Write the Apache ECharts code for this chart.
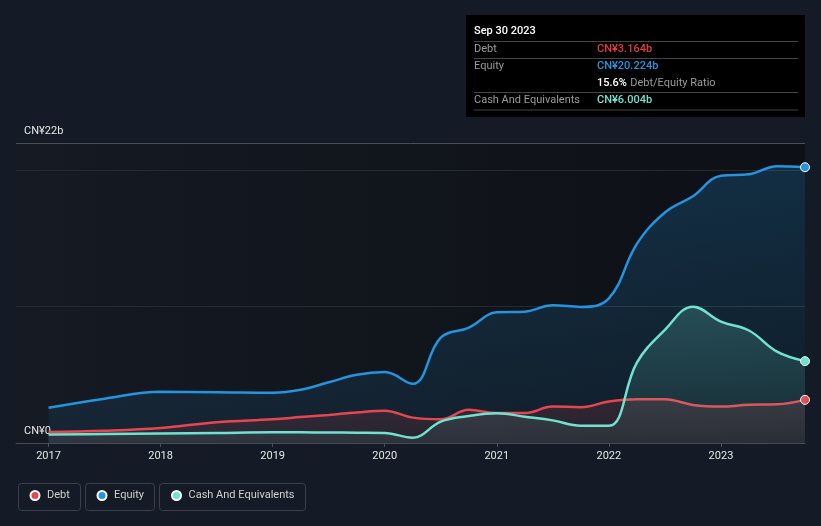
<!DOCTYPE html>
<html>
<head>
<meta charset="utf-8">
<script src="https://cdn.jsdelivr.net/npm/echarts@6/dist/echarts.min.js"></script>
<style>
html,body{margin:0;padding:0;background:#151b26;}
#chart{width:821px;height:526px;}
</style>
</head>
<body>
<div id="chart"></div>
<script>
// Time points (decimal years)
var dates = [2017.0, 2017.5, 2018.0, 2018.5, 2019.0, 2019.25, 2019.5, 2019.75, 2020.0, 2020.25, 2020.5, 2020.75, 2021.0, 2021.25, 2021.5, 2021.75, 2022.0, 2022.25, 2022.5, 2022.75, 2023.0, 2023.25, 2023.5, 2023.75];
// Values in CN¥ billions
var debt   = [0.81, 0.9, 1.1, 1.52, 1.74, 1.9, 2.06, 2.24, 2.37, 1.86, 1.74, 2.43, 2.2, 2.2, 2.67, 2.63, 3.04, 3.21, 3.21, 2.79, 2.67, 2.81, 2.84, 3.164];
var equity = [2.58, 3.25, 3.75, 3.72, 3.68, 3.9, 4.45, 5.0, 5.2, 4.34, 7.72, 8.46, 9.58, 9.63, 10.1, 9.98, 10.6, 14.6, 16.9, 18.1, 19.6, 19.7, 20.3, 20.224];
var cash   = [0.62, 0.66, 0.7, 0.74, 0.78, 0.78, 0.77, 0.76, 0.74, 0.39, 1.57, 1.98, 2.18, 1.93, 1.66, 1.27, 1.27, 5.9, 8.3, 10.0, 8.9, 8.25, 6.7, 6.004];
var yearTicks = [2017, 2018, 2019, 2020, 2021, 2022, 2023];
var seriesNames = ['Debt', 'Equity', 'Cash And Equivalents'];

var COLORS = {debt: '#e5474f', equity: '#2394df', cash: '#6fe3d0'};

function pairs(arr) { return arr.map(function (v, i) { return [dates[i], v]; }); }
function grad(rgb, a0, a1) {
  return new echarts.graphic.LinearGradient(0, 0, 0, 1, [
    {offset: 0, color: 'rgba(' + rgb + ',' + a0 + ')'},
    {offset: 1, color: 'rgba(' + rgb + ',' + a1 + ')'}
  ]);
}
var last = dates.length - 1;
function mkSeries(name, data, color, rgb, a0, a1, z) {
  return {
    name: name, type: 'line', data: pairs(data), z: z,
    smooth: 0.4,
    showSymbol: true, symbol: 'circle',
    symbolSize: function (v, p) { return p.dataIndex === last ? 9 : 0; },
    itemStyle: {color: color, borderColor: '#ffffff', borderWidth: 1},
    lineStyle: {color: color, width: 2.5},
    areaStyle: {color: grad(rgb, a0, a1), origin: 'start'},
    emphasis: {disabled: true},
    silent: true
  };
}

var chart = echarts.init(document.getElementById('chart'), null, {renderer: 'canvas'});
var legendText = {color: '#d0d0d0', fontSize: 11};
var option = {
  backgroundColor: '#151b26',
  animation: false,
  textStyle: {fontFamily: 'Roboto'},
  grid: {
    left: 16, right: 16, top: 143, bottom: 83,
    show: true, borderWidth: 0,
    backgroundColor: new echarts.graphic.LinearGradient(0, 0, 1, 0, [
      {offset: 0, color: '#151a23'}, {offset: 1, color: '#0d1015'}
    ])
  },
  xAxis: {
    type: 'value', min: 2016.71, max: 2023.75,
    axisLine: {show: true, lineStyle: {color: '#454b55', width: 1}},
    axisTick: {show: true, customValues: yearTicks, length: 4, lineStyle: {color: '#4a505a'}},
    axisLabel: {customValues: yearTicks, color: '#e6e6e6', fontSize: 11, margin: 8,
      formatter: function (v) { return String(Math.round(v)); }},
    splitLine: {show: false}
  },
  yAxis: {
    type: 'value', min: 0, max: 22, interval: 10,
    axisLine: {show: false}, axisTick: {show: false},
    axisLabel: {
      inside: true, margin: 8, color: '#e6e6e6', fontSize: 11,
      verticalAlign: 'bottom', lineHeight: 23,
      formatter: function (v) { if (v === 0) return 'CN¥0'; if (v === 22) return 'CN¥22b'; return ''; }
    },
    splitLine: {show: true, lineStyle: {color: ['#454b55', '#252a33', '#252a33', '#4a4f58'], width: 1}}
  },
  legend: [
    {data: ['Debt'], left: 24.5, top: 485, icon: 'circle', itemWidth: 14, itemHeight: 9,
      textStyle: legendText, selectedMode: false},
    {data: ['Equity'], left: 91.5, top: 485, icon: 'circle', itemWidth: 14, itemHeight: 9,
      textStyle: legendText, selectedMode: false},
    {data: ['Cash And Equivalents'], left: 166, top: 485, icon: 'circle', itemWidth: 14, itemHeight: 9,
      textStyle: legendText, selectedMode: false}
  ],
  series: [
    mkSeries(seriesNames[1], equity, COLORS.equity, '35,148,223', 0.32, 0.12, 2),
    mkSeries(seriesNames[0], debt, COLORS.debt, '229,71,79', 0.22, 0.14, 3),
    mkSeries(seriesNames[2], cash, COLORS.cash, '111,227,208', 0.3, 0.1, 4)
  ],
  graphic: [
    // legend boxes
    {type: 'rect', left: 16, top: 481, shape: {width: 62, height: 27, r: 3}, style: {fill: 'none', stroke: '#3b404a', lineWidth: 1}, silent: true},
    {type: 'rect', left: 83, top: 481, shape: {width: 69, height: 27, r: 3}, style: {fill: 'none', stroke: '#3b404a', lineWidth: 1}, silent: true},
    {type: 'rect', left: 157, top: 481, shape: {width: 146, height: 27, r: 3}, style: {fill: 'none', stroke: '#3b404a', lineWidth: 1}, silent: true},
    // info box
    {type: 'group', left: 466, top: 15, silent: true, children: [
      {type: 'rect', shape: {x: 0, y: 0, width: 339, height: 102}, style: {fill: '#000000'}},
      {type: 'text', x: 8, y: 16, style: {text: 'Sep 30 2023', fill: '#ffffff', font: '500 11px Roboto', verticalAlign: 'middle'}},
      {type: 'line', shape: {x1: 8, y1: 26.5, x2: 332, y2: 26.5}, style: {stroke: '#454545', lineWidth: 1}},
      {type: 'text', x: 8, y: 34, style: {text: 'Debt', fill: '#9a9a9a', font: '11px Roboto', verticalAlign: 'middle'}},
      {type: 'text', x: 131, y: 34, style: {text: 'CN¥3.164b', fill: '#e5393f', font: '500 11px Roboto', verticalAlign: 'middle'}},
      {type: 'line', shape: {x1: 8, y1: 43.5, x2: 332, y2: 43.5}, style: {stroke: '#454545', lineWidth: 1}},
      {type: 'text', x: 8, y: 51.5, style: {text: 'Equity', fill: '#9a9a9a', font: '11px Roboto', verticalAlign: 'middle'}},
      {type: 'text', x: 131, y: 51.5, style: {text: 'CN¥20.224b', fill: '#2394df', font: '500 11px Roboto', verticalAlign: 'middle'}},
      {type: 'text', x: 131, y: 68.5, style: {
        text: '{b|15.6%} {g|Debt/Equity Ratio}', verticalAlign: 'middle',
        rich: {b: {fill: '#ffffff', font: '500 11px Roboto'}, g: {fill: '#9a9a9a', font: '11px Roboto'}}
      }},
      {type: 'line', shape: {x1: 8, y1: 77.5, x2: 332, y2: 77.5}, style: {stroke: '#454545', lineWidth: 1}},
      {type: 'text', x: 8, y: 85, style: {text: 'Cash And Equivalents', fill: '#9a9a9a', font: '11px Roboto', verticalAlign: 'middle'}},
      {type: 'text', x: 131, y: 85, style: {text: 'CN¥6.004b', fill: '#6fe3d0', font: '500 11px Roboto', verticalAlign: 'middle'}},
      {type: 'line', shape: {x1: 8, y1: 95, x2: 332, y2: 95}, style: {stroke: '#454545', lineWidth: 1}}
    ]}
  ]
};
chart.setOption(option);
</script>
</body>
</html>
